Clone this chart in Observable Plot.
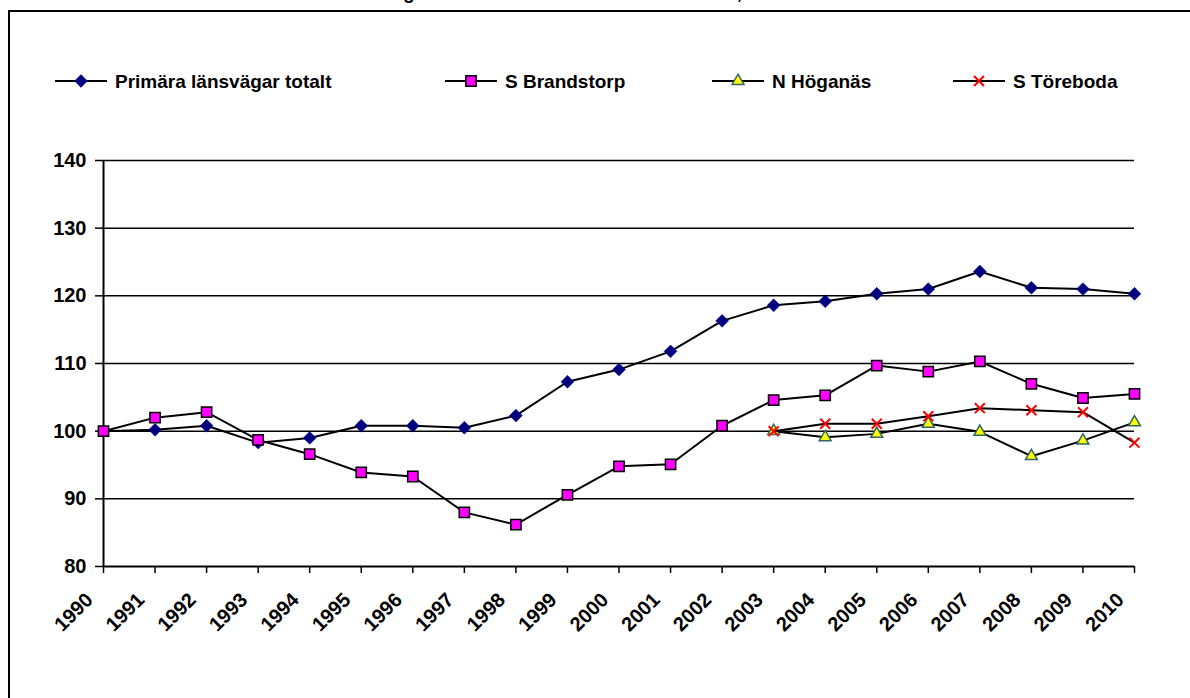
<!DOCTYPE html>
<html>
<head>
<meta charset="utf-8">
<script src="https://cdn.jsdelivr.net/npm/d3@7"></script>
<script src="https://cdn.jsdelivr.net/npm/@observablehq/plot@0.6"></script>
<style>
  html, body { margin: 0; padding: 0; background: #fff; }
  #wrap { position: relative; width: 1190px; height: 698px; overflow: hidden; background: #fff;
          font-family: "Liberation Sans", Arial, sans-serif; font-weight: bold; color: #000; }
  #title { position: absolute; left: 270px; top: -17px; font-size: 19px; line-height: 19px; white-space: nowrap; }
  #frame { position: absolute; left: 8px; top: 10px; width: 1180px; height: 720px;
           border-top: 2px solid #000; border-left: 2px solid #000; }
  #chart { position: absolute; left: 0; top: 0; }
  #legend { position: absolute; left: 0; top: 60px; }
</style>
</head>
<body>
<div id="wrap">
  <div id="frame"></div>
  <div id="title">Trafikutveckling totalt och vid de tre mätstationerna, index 1990 = 100</div>
  <div id="chart"></div>
  <svg id="legend" width="1190" height="45"></svg>
</div>
<script>
// ---- data ----
const years = [1990,1991,1992,1993,1994,1995,1996,1997,1998,1999,2000,2001,2002,2003,2004,2005,2006,2007,2008,2009,2010];
const primara = [100,100.2,100.8,98.3,99.0,100.8,100.8,100.5,102.3,107.3,109.1,111.8,116.3,118.6,119.2,120.3,121.0,123.6,121.2,121.0,120.3];
const brandstorp = [100,102.0,102.8,98.7,96.6,93.9,93.3,88.0,86.2,90.6,94.8,95.1,100.8,104.6,105.3,109.7,108.8,110.3,107.0,104.9,105.5];
const stationYears = [2003,2004,2005,2006,2007,2008,2009,2010];
const hoganas = [100,99.1,99.6,101.1,99.9,96.3,98.6,101.3];
const toreboda = [100,101.1,101.1,102.2,103.4,103.1,102.8,98.3];
const seriesNames = ["Primära länsvägar totalt","S Brandstorp","N Höganäs","S Töreboda"];
const yTicks = [80,90,100,110,120,130,140];
const gridTicks = [90,100,110,120,130,140];

const toRows = (xs, vs) => xs.map((x, i) => ({year: x, value: vs[i]}));
const rowsP = toRows(years, primara);
const rowsB = toRows(years, brandstorp);
const rowsH = toRows(stationYears, hoganas);
const rowsT = toRows(stationYears, toreboda);

const FONT = '"Liberation Sans", Arial, sans-serif';

// series styles
const styles = [
  {rows: rowsP, symbol: "diamond2", d3sym: d3.symbolDiamond2, r: 5.8, fill: "#000080", stroke: "#000080", sw: 0.5},
  {rows: rowsB, symbol: "square", d3sym: d3.symbolSquare, r: 5.8, fill: "#FF00FF", stroke: "#000000", sw: 1.5},
  {rows: rowsH, symbol: "triangle", d3sym: d3.symbolTriangle, r: 4.4, fill: "#FFFF00", stroke: "#336666", sw: 1.5},
  {rows: rowsT, symbol: "times", d3sym: d3.symbolTimes, r: 4.6, fill: "none", stroke: "#FF0000", sw: 2}
];

const labelStyle = {fontSize: 20, fontWeight: "bold", fontFamily: FONT, fill: "#000"};

const marks = [
  Plot.ruleY(gridTicks, {stroke: "#000", strokeWidth: 1.5}),
  Plot.ruleY([80], {stroke: "#000", strokeWidth: 2}),
  Plot.ruleX([1990], {stroke: "#000", strokeWidth: 2}),
  // tick marks only
  Plot.axisY({ticks: yTicks, tickSize: 8, tickFormat: () => "", strokeWidth: 1.5, label: null}),
  Plot.axisX({ticks: years, tickSize: 7, tickFormat: () => "", strokeWidth: 1.5, label: null}),
  // tick labels as text marks
  Plot.text(yTicks, {x: () => years[0], y: d => d, text: d => String(d), textAnchor: "end",
                     dx: -17, ...labelStyle}),
  Plot.text(years, {x: d => d, y: () => yTicks[0], text: d => String(d), rotate: -45,
                    textAnchor: "end", lineAnchor: "middle", dx: -14, dy: 30, ...labelStyle})
];
for (const s of styles) {
  marks.push(Plot.line(s.rows, {x: "year", y: "value", stroke: "#000", strokeWidth: 2}));
  if (s.symbol === "times") {
    marks.push(Plot.dot(s.rows, {x: "year", y: "value", symbol: s.symbol, r: s.r, stroke: s.stroke, strokeWidth: s.sw}));
  } else {
    marks.push(Plot.dot(s.rows, {x: "year", y: "value", symbol: s.symbol, r: s.r, fill: s.fill, stroke: s.stroke, strokeWidth: s.sw}));
  }
}

const chart = Plot.plot({
  width: 1190,
  height: 698,
  marginTop: 160,
  marginBottom: 132,
  marginLeft: 103,
  marginRight: 56,
  style: {fontFamily: FONT, fontSize: "19px", fontWeight: "bold", color: "#000", background: "transparent", overflow: "visible"},
  x: {type: "linear", domain: [1990, 2010], label: null},
  y: {domain: [80, 140], label: null},
  marks
});
document.getElementById("chart").appendChild(chart);

// ---- legend ----
const legendX = [55, 445, 712, 953];
const lg = d3.select("#legend");
const ly = 21;
styles.forEach((s, i) => {
  const x0 = legendX[i];
  const g = lg.append("g");
  g.append("line").attr("x1", x0).attr("x2", x0 + 52).attr("y1", ly).attr("y2", ly)
    .attr("stroke", "#000").attr("stroke-width", 2);
  g.append("path")
    .attr("transform", `translate(${x0 + 26},${ly})`)
    .attr("d", d3.symbol(s.d3sym, Math.PI * s.r * s.r)())
    .attr("fill", s.fill).attr("stroke", s.stroke).attr("stroke-width", s.sw);
  g.append("text").attr("x", x0 + 60).attr("y", ly).attr("dy", "0.35em")
    .attr("font-family", FONT)
    .attr("font-weight", "bold").attr("font-size", 19).attr("fill", "#000")
    .text(seriesNames[i]);
});
</script>
</body>
</html>
